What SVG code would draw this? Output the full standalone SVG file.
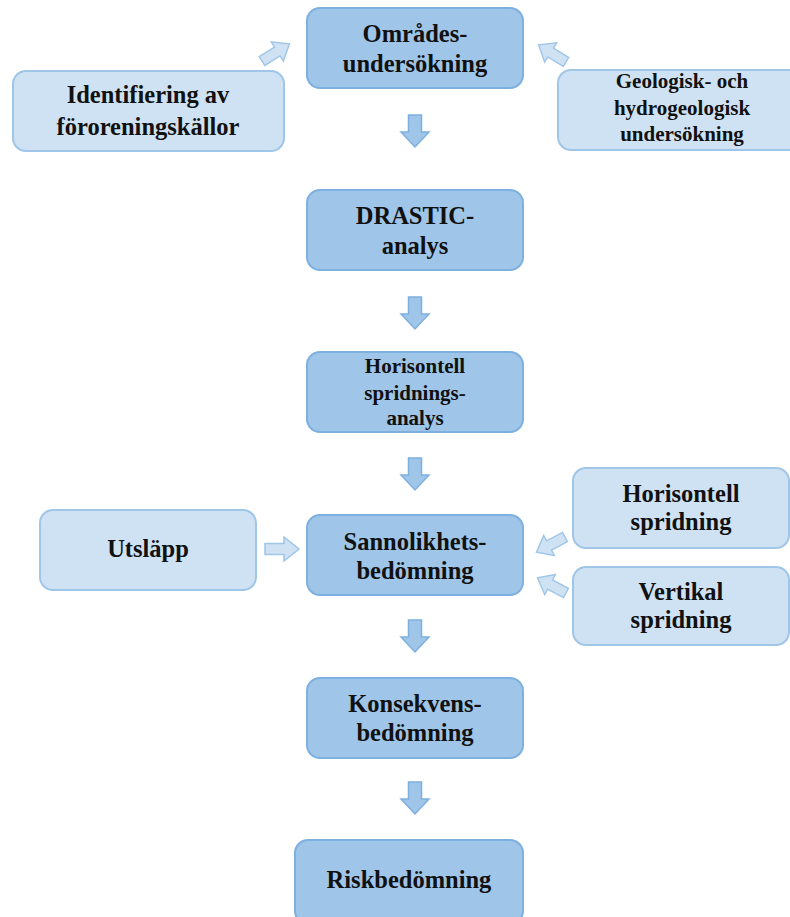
<svg xmlns="http://www.w3.org/2000/svg" width="790" height="917" viewBox="0 0 790 917">
<style>
.main{fill:#9fc5e8;stroke:#7eb0df;stroke-width:2}
.side{fill:#cfe2f3;stroke:#9fc5e8;stroke-width:2}
.t{font-family:"Liberation Serif","Times New Roman",serif;font-weight:bold;font-size:24.5px;fill:#111;text-anchor:middle}
.s{font-size:21px}
.ad{fill:#9fc5e8;stroke:#7eb0df;stroke-width:1.5}
.as{fill:#cfe2f3;stroke:#9fc5e8;stroke-width:1.5}
</style>
<defs>
<path id="down" d="M-6.5,0 H6.5 V17 H14 L0,32 L-14,17 H-6.5 Z"/>
<path id="right" d="M0,-5.5 H19 V-12 L34,0 L19,12 V5.5 H0 Z"/>
</defs>
<g id="connectors">
<use href="#down" class="ad" x="415" y="115"/>
<use href="#down" class="ad" x="415" y="297"/>
<use href="#down" class="ad" x="415" y="458"/>
<use href="#down" class="ad" x="415" y="620"/>
<use href="#down" class="ad" x="415" y="782"/>
<use href="#right" class="as" transform="translate(265,549)"/>
<use href="#right" class="as" transform="translate(262,61) rotate(-32) scale(0.95)"/>
<use href="#right" class="as" transform="translate(566,62) rotate(-148) scale(0.95)"/>
<use href="#right" class="as" transform="translate(565,537) rotate(152) scale(0.95)"/>
<use href="#right" class="as" transform="translate(566,593) rotate(-152) scale(0.95)"/>
</g>
<g id="omrades">
<rect class="main" x="307" y="8" width="216" height="80" rx="13"/>
<text class="t" x="415" y="42">Områdes-</text>
<text class="t" x="415" y="72">undersökning</text>
</g>
<g id="identifiering">
<rect class="side" x="13" y="71" width="271" height="80" rx="13"/>
<text class="t" x="148" y="103">Identifiering av</text>
<text class="t" x="148" y="135">föroreningskällor</text>
</g>
<g id="geologisk">
<rect class="side" x="558" y="70" width="245" height="80" rx="13"/>
<text class="t s" x="682" y="88">Geologisk- och</text>
<text class="t s" x="682" y="115">hydrogeologisk</text>
<text class="t s" x="682" y="141">undersökning</text>
</g>
<g id="drastic">
<rect class="main" x="307" y="190" width="216" height="80" rx="13"/>
<text class="t" x="415" y="224">DRASTIC-</text>
<text class="t" x="415" y="254">analys</text>
</g>
<g id="horisontell-analys">
<rect class="main" x="307" y="352" width="216" height="80" rx="13"/>
<text class="t s" x="415" y="373">Horisontell</text>
<text class="t s" x="415" y="400">spridnings-</text>
<text class="t s" x="415" y="425">analys</text>
</g>
<g id="utslapp">
<rect class="side" x="40" y="510" width="216" height="80" rx="13"/>
<text class="t" x="148" y="557">Utsläpp</text>
</g>
<g id="sannolikhet">
<rect class="main" x="307" y="515" width="216" height="80" rx="13"/>
<text class="t" x="415" y="550">Sannolikhets-</text>
<text class="t" x="415" y="579">bedömning</text>
</g>
<g id="horisontell-spridning">
<rect class="side" x="573" y="468" width="216" height="80" rx="13"/>
<text class="t" x="681" y="502">Horisontell</text>
<text class="t" x="681" y="530">spridning</text>
</g>
<g id="vertikal">
<rect class="side" x="573" y="567" width="216" height="78" rx="13"/>
<text class="t" x="681" y="600">Vertikal</text>
<text class="t" x="681" y="628">spridning</text>
</g>
<g id="konsekvens">
<rect class="main" x="307" y="678" width="216" height="80" rx="13"/>
<text class="t" x="415" y="712">Konsekvens-</text>
<text class="t" x="415" y="741">bedömning</text>
</g>
<g id="risk">
<rect class="main" x="295" y="840" width="228" height="84" rx="13"/>
<text class="t" x="409" y="888">Riskbedömning</text>
</g>
</svg>
